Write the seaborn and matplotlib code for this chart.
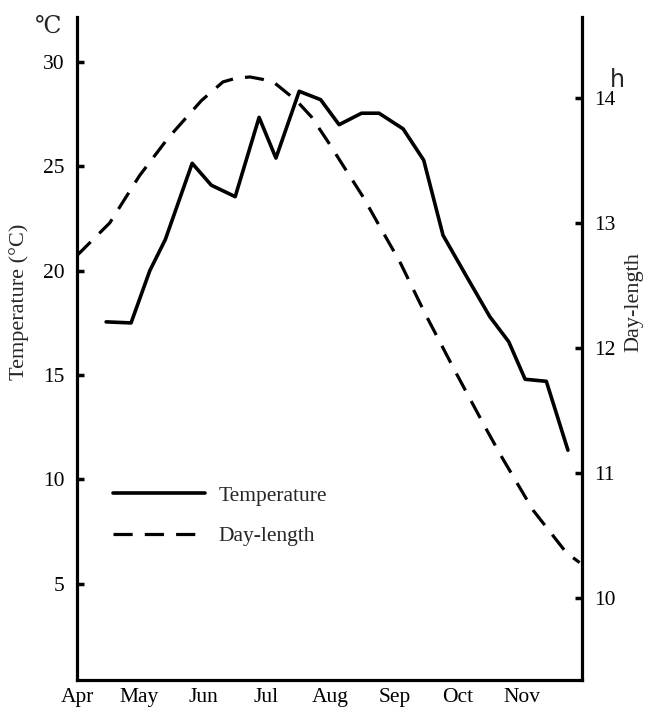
import numpy as np
import pandas as pd
import matplotlib
matplotlib.use("Agg")
import matplotlib.pyplot as plt
import seaborn as sns

# days counted from 1 April
temp_day = [14, 26, 35, 42.5, 55.4, 64.6, 76.1, 87.6, 95.7, 106.9, 117.2, 126.1,
            136.9, 145.3, 156.9, 166.8, 176.1, 187, 198.6, 207.7, 215.6, 225.8, 236.2]
temp_val = [17.55, 17.5, 20.0, 21.5, 25.15, 24.1, 23.55, 27.35, 25.4, 28.6, 28.2, 27.0,
            27.55, 27.55, 26.8, 25.3, 21.7, 19.8, 17.8, 16.6, 14.8, 14.7, 11.4]

day_day = [0, 15.7, 30.1, 43.8, 59.8, 70.2, 76.5, 83.2, 89.5, 95.2, 105.6, 112.8, 120.8, 128.8,
           137.6, 145.7, 155.3, 167.3, 181.7, 196.2, 204.2, 219.4, 235.4, 241.8]
day_len = [12.74, 13.0, 13.38, 13.68, 13.98, 14.13, 14.16, 14.17, 14.15, 14.12, 13.98, 13.85,
           13.65, 13.44, 13.21, 12.97, 12.69, 12.28, 11.82, 11.37, 11.13, 10.70, 10.36, 10.28]

months = ["Apr", "May", "Jun", "Jul", "Aug", "Sep", "Oct", "Nov"]
month_start = [0, 30, 61, 91, 122, 153, 183, 214]

temp_df = pd.DataFrame({"day": temp_day, "temp": temp_val})
len_df = pd.DataFrame({"day": day_day, "hours": day_len})

sns.set_style("white")
plt.rcParams["font.family"] = ["Liberation Serif", "DejaVu Serif", "DejaVu Sans"]

fig = plt.figure(figsize=(6.5, 7.09), dpi=100)
ax = fig.add_axes([0.1185, 0.041, 0.777, 0.935])
ax2 = ax.twinx()

sns.lineplot(data=temp_df, x="day", y="temp", ax=ax, color="black", lw=2.6,
             label="Temperature", legend=False)
sns.lineplot(data=len_df, x="day", y="hours", ax=ax2, color="black", lw=2.3,
             label="Day-length", legend=False)
ax2.lines[0].set_dashes((6, 3.8))

ax.set_xlim(0, 243)
ax.set_ylim(0.39, 32.16)
ax2.set_ylim(9.34, 14.65)

ax.set_xticks(month_start)
ax.set_xticklabels(months)
ax.set_yticks([5, 10, 15, 20, 25, 30])
ax2.set_yticks([10, 11, 12, 13, 14])

for a in (ax, ax2):
    a.spines["top"].set_visible(False)
    for s in a.spines.values():
        s.set_linewidth(2.3)
        s.set_color("black")
    a.tick_params(direction="in", length=5, width=2.5, colors="black",
                  labelsize=15.5, pad=9)
ax2.spines["left"].set_visible(False)
ax2.spines["bottom"].set_visible(False)
ax.spines["right"].set_visible(False)
ax.tick_params(axis="x", pad=6)

ax.set_xlabel("")
ax.set_ylabel("Temperature (°C)", fontsize=16)
ax2.set_ylabel("Day-length", fontsize=16)
ax.yaxis.set_label_coords(-0.095, 0.57)
ax2.yaxis.set_label_coords(1.083, 0.57)

ax.text(-0.058, 0.985, "℃", transform=ax.transAxes, fontsize=17, ha="center", va="center")
ax2.text(1.07, 0.905, "h", transform=ax.transAxes, fontsize=17, ha="center", va="center",
         family="DejaVu Sans")

h1, l1 = ax.get_legend_handles_labels()
h2, l2 = ax2.get_legend_handles_labels()
leg = ax2.legend(h1 + h2, l1 + l2, loc="center left", bbox_to_anchor=(0.071, 0.247),
                 frameon=False, fontsize=15.5, handlelength=4.3, handletextpad=0.6,
                 labelspacing=0.95, borderpad=0, borderaxespad=0)

fig.savefig("out.png", dpi=100)
